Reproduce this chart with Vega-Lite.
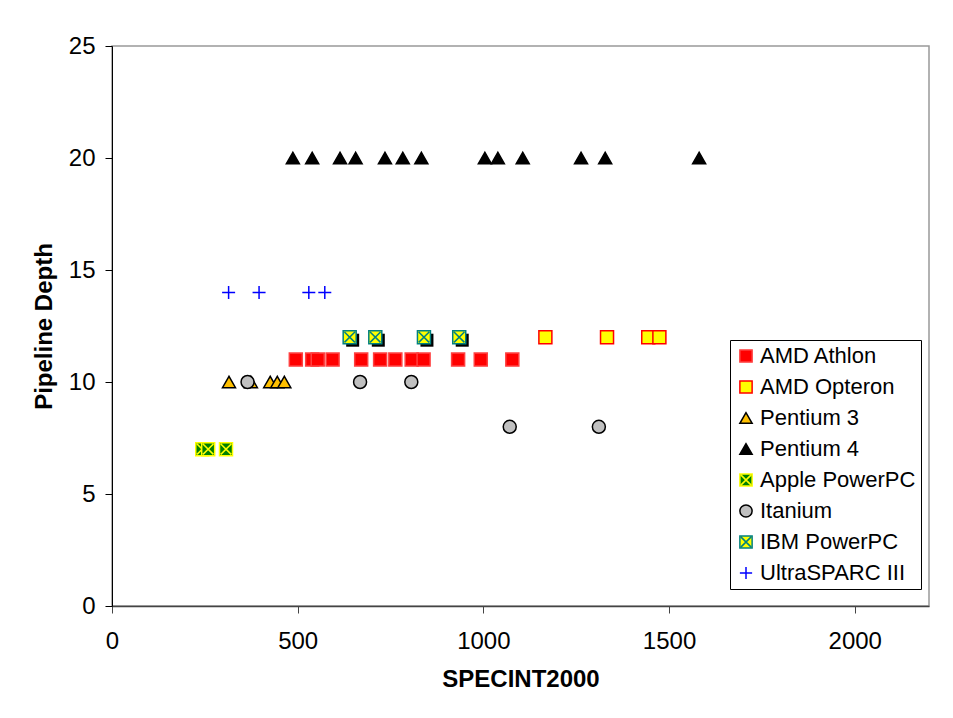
{
  "$schema": "https://vega.github.io/schema/vega-lite/v6.json",
  "width": 817,
  "height": 560,
  "autosize": {"type": "none"},
  "padding": {"left": 112, "top": 46, "right": 24, "bottom": 112},
  "background": "white",
  "config": {
    "font": "Liberation Sans",
    "view": {"stroke": "#999999", "strokeWidth": 1.5},
    "axis": {"grid": false, "labelFlush": false, "labelFont": "Liberation Sans", "labelFontSize": 24, "labelColor": "#000000", "titleFont": "Liberation Sans", "titleFontSize": 24, "titleFontWeight": "bold", "titleColor": "#000000", "tickSize": 7, "tickColor": "#000000", "domainColor": "#000000"},
    "legend": {"labelFont": "Liberation Sans", "labelFontSize": 22, "labelColor": "#000000", "labelLimit": 400}
  },
  "data": {
    "values": [
      {"s": "AMD Athlon", "x": 495, "y": 11},
      {"s": "AMD Athlon", "x": 539, "y": 11},
      {"s": "AMD Athlon", "x": 554, "y": 11},
      {"s": "AMD Athlon", "x": 594, "y": 11},
      {"s": "AMD Athlon", "x": 671, "y": 11},
      {"s": "AMD Athlon", "x": 722, "y": 11},
      {"s": "AMD Athlon", "x": 763, "y": 11},
      {"s": "AMD Athlon", "x": 807, "y": 11},
      {"s": "AMD Athlon", "x": 839, "y": 11},
      {"s": "AMD Athlon", "x": 932, "y": 11},
      {"s": "AMD Athlon", "x": 993, "y": 11},
      {"s": "AMD Athlon", "x": 1078, "y": 11},
      {"s": "AMD Opteron", "x": 1167, "y": 12},
      {"s": "AMD Opteron", "x": 1333, "y": 12},
      {"s": "AMD Opteron", "x": 1444, "y": 12},
      {"s": "AMD Opteron", "x": 1474, "y": 12},
      {"s": "Pentium 3", "x": 315, "y": 10},
      {"s": "Pentium 3", "x": 374, "y": 10},
      {"s": "Pentium 3", "x": 426, "y": 10},
      {"s": "Pentium 3", "x": 445, "y": 10},
      {"s": "Pentium 3", "x": 464, "y": 10},
      {"s": "Pentium 4", "x": 487, "y": 20},
      {"s": "Pentium 4", "x": 539, "y": 20},
      {"s": "Pentium 4", "x": 614, "y": 20},
      {"s": "Pentium 4", "x": 656, "y": 20},
      {"s": "Pentium 4", "x": 735, "y": 20},
      {"s": "Pentium 4", "x": 783, "y": 20},
      {"s": "Pentium 4", "x": 833, "y": 20},
      {"s": "Pentium 4", "x": 1004, "y": 20},
      {"s": "Pentium 4", "x": 1039, "y": 20},
      {"s": "Pentium 4", "x": 1106, "y": 20},
      {"s": "Pentium 4", "x": 1263, "y": 20},
      {"s": "Pentium 4", "x": 1328, "y": 20},
      {"s": "Pentium 4", "x": 1581, "y": 20},
      {"s": "Apple PowerPC", "x": 243, "y": 7},
      {"s": "Apple PowerPC", "x": 259, "y": 7},
      {"s": "Apple PowerPC", "x": 307, "y": 7},
      {"s": "Itanium", "x": 365, "y": 10},
      {"s": "Itanium", "x": 668, "y": 10},
      {"s": "Itanium", "x": 806, "y": 10},
      {"s": "Itanium", "x": 1071, "y": 8},
      {"s": "Itanium", "x": 1311, "y": 8},
      {"s": "IBM PowerPC", "x": 640, "y": 12},
      {"s": "IBM PowerPC", "x": 709, "y": 12},
      {"s": "IBM PowerPC", "x": 840, "y": 12},
      {"s": "IBM PowerPC", "x": 935, "y": 12},
      {"s": "UltraSPARC III", "x": 314, "y": 14},
      {"s": "UltraSPARC III", "x": 396, "y": 14},
      {"s": "UltraSPARC III", "x": 530, "y": 14},
      {"s": "UltraSPARC III", "x": 573, "y": 14}
    ]
  },
  "encoding": {
    "x": {"field": "x", "type": "quantitative", "title": "SPECINT2000",
      "scale": {"domain": [0, 2200], "nice": false, "zero": false},
      "axis": {"values": [0, 500, 1000, 1500, 2000], "format": "d", "labelPadding": 16, "titlePadding": 14, "domainColor": "#444444", "domainWidth": 1.5, "tickColor": "#444444"}},
    "y": {"field": "y", "type": "quantitative", "title": "Pipeline Depth",
      "scale": {"domain": [0, 25], "nice": false},
      "axis": {"values": [0, 5, 10, 15, 20, 25], "labelPadding": 10, "titlePadding": 12}}
  },
  "layer": [
    {
      "transform": [{"filter": "datum.s === 'IBM PowerPC'"}],
      "mark": {"type": "square", "color": "#000000", "size": 169, "opacity": 1, "xOffset": 3, "yOffset": 3},
      "encoding": {}
    },
    {
      "mark": {"type": "point", "size": 169, "opacity": 1, "strokeWidth": 1.5, "filled": false},
      "encoding": {
        "shape": {"field": "s", "type": "nominal", "title": null,
          "scale": {"domain": ["AMD Athlon", "AMD Opteron", "Pentium 3", "Pentium 4", "Apple PowerPC", "Itanium", "IBM PowerPC", "UltraSPARC III"],
            "range": ["square", "square", "triangle-up", "triangle-up", "M-1,-1H1V1H-1ZM-0.8,-0.8L0.8,0.8M0.8,-0.8L-0.8,0.8", "circle", "M-1,-1H1V1H-1ZM-0.8,-0.8L0.8,0.8M0.8,-0.8L-0.8,0.8", "M-1,0H1M0,-1V1"]},
          "legend": {"orient": "none", "legendX": 618, "legendY": 294, "padding": 5, "strokeColor": "#000000", "fillColor": "#ffffff", "symbolSize": 150, "labelOffset": 3, "rowPadding": 9, "symbolStrokeWidth": 1.5}},
        "fill": {"field": "s", "type": "nominal", "title": null,
          "scale": {"domain": ["AMD Athlon", "AMD Opteron", "Pentium 3", "Pentium 4", "Apple PowerPC", "Itanium", "IBM PowerPC", "UltraSPARC III"],
            "range": ["#ff0000", "#ffff00", "#ffc000", "#000000", "#008000", "#c0c0c0", "#ffff00", "transparent"]}},
        "stroke": {"field": "s", "type": "nominal", "title": null,
          "scale": {"domain": ["AMD Athlon", "AMD Opteron", "Pentium 3", "Pentium 4", "Apple PowerPC", "Itanium", "IBM PowerPC", "UltraSPARC III"],
            "range": ["#ff4040", "#ff0000", "#000000", "#000000", "#ffff00", "#000000", "#008080", "#0000ff"]}}
      }
    }
  ]
}
